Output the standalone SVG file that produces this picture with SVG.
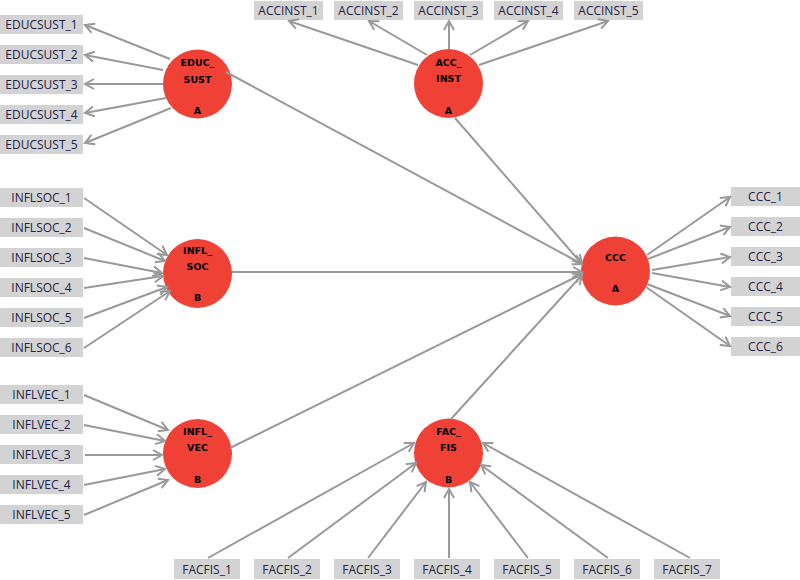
<svg xmlns="http://www.w3.org/2000/svg" width="800" height="580" viewBox="0 0 800 580">
<style>
.bg{fill:#ffffff}
.box{fill:#d3d3d3}
.lbl{font-family:"Open Sans","Noto Sans","DejaVu Sans",sans-serif;font-size:12px;fill:#1e2246;text-anchor:middle}
.lv{fill:#ef4136}
.lt{font-family:"DejaVu Sans","Liberation Sans",sans-serif;font-size:9.5px;font-weight:bold;fill:#000;text-anchor:middle}
.c{stroke:#999999;stroke-width:2;fill:none;marker-end:url(#ah)}
</style>
<defs>
<marker id="ah" markerUnits="userSpaceOnUse" markerWidth="14" markerHeight="14" viewBox="0 0 14 14" refX="11" refY="7" orient="auto">
<path d="M2,2 L11,7 L2,12" fill="none" stroke="#999999" stroke-width="2"/>
</marker>
</defs>
<rect class="bg" x="0" y="0" width="800" height="580"/>

<g id="nodes">
<g id="EDUC_SUST"><circle class="lv" cx="197.5" cy="84" r="34.5"/><text class="lt" x="197.5" y="66">EDUC_</text><text class="lt" x="197.5" y="83">SUST</text><text class="lt" x="197.5" y="114">A</text></g>
<g id="ACC_INST"><circle class="lv" cx="448.5" cy="83.5" r="34.5"/><text class="lt" x="448.5" y="66">ACC_</text><text class="lt" x="448.5" y="82">INST</text><text class="lt" x="448.5" y="114">A</text></g>
<g id="INFL_SOC"><circle class="lv" cx="197.5" cy="273.5" r="34.5"/><text class="lt" x="197.5" y="254">INFL_</text><text class="lt" x="197.5" y="270">SOC</text><text class="lt" x="197.5" y="301">B</text></g>
<g id="INFL_VEC"><circle class="lv" cx="197.5" cy="453.5" r="34.5"/><text class="lt" x="197.5" y="435">INFL_</text><text class="lt" x="197.5" y="451">VEC</text><text class="lt" x="197.5" y="483">B</text></g>
<g id="FAC_FIS"><circle class="lv" cx="448.5" cy="453" r="34.5"/><text class="lt" x="448.5" y="435">FAC_</text><text class="lt" x="448.5" y="451">FIS</text><text class="lt" x="448.5" y="483">B</text></g>
<g id="CCC"><circle class="lv" cx="615.5" cy="271" r="34.5"/><text class="lt" x="615.5" y="261">CCC</text><text class="lt" x="615.5" y="292">A</text></g>

<g id="EDUCSUST_1"><rect class="box" x="0" y="15" width="83" height="19"/><text class="lbl" x="41.5" y="29">EDUCSUST_1</text></g>
<g id="EDUCSUST_2"><rect class="box" x="0" y="45" width="83" height="19"/><text class="lbl" x="41.5" y="59">EDUCSUST_2</text></g>
<g id="EDUCSUST_3"><rect class="box" x="0" y="75" width="83" height="19"/><text class="lbl" x="41.5" y="89">EDUCSUST_3</text></g>
<g id="EDUCSUST_4"><rect class="box" x="0" y="105" width="83" height="19"/><text class="lbl" x="41.5" y="119">EDUCSUST_4</text></g>
<g id="EDUCSUST_5"><rect class="box" x="0" y="135" width="83" height="19"/><text class="lbl" x="41.5" y="149">EDUCSUST_5</text></g>

<g id="ACCINST_1"><rect class="box" x="254" y="1" width="69" height="19"/><text class="lbl" x="288.5" y="15">ACCINST_1</text></g>
<g id="ACCINST_2"><rect class="box" x="334" y="1" width="69" height="19"/><text class="lbl" x="368.5" y="15">ACCINST_2</text></g>
<g id="ACCINST_3"><rect class="box" x="414" y="1" width="69" height="19"/><text class="lbl" x="448.5" y="15">ACCINST_3</text></g>
<g id="ACCINST_4"><rect class="box" x="494" y="1" width="69" height="19"/><text class="lbl" x="528.5" y="15">ACCINST_4</text></g>
<g id="ACCINST_5"><rect class="box" x="574" y="1" width="69" height="19"/><text class="lbl" x="608.5" y="15">ACCINST_5</text></g>

<g id="INFLSOC_1"><rect class="box" x="0" y="188" width="83" height="19"/><text class="lbl" x="41.5" y="202">INFLSOC_1</text></g>
<g id="INFLSOC_2"><rect class="box" x="0" y="218" width="83" height="19"/><text class="lbl" x="41.5" y="232">INFLSOC_2</text></g>
<g id="INFLSOC_3"><rect class="box" x="0" y="248" width="83" height="19"/><text class="lbl" x="41.5" y="262">INFLSOC_3</text></g>
<g id="INFLSOC_4"><rect class="box" x="0" y="278" width="83" height="19"/><text class="lbl" x="41.5" y="292">INFLSOC_4</text></g>
<g id="INFLSOC_5"><rect class="box" x="0" y="308" width="83" height="19"/><text class="lbl" x="41.5" y="322">INFLSOC_5</text></g>
<g id="INFLSOC_6"><rect class="box" x="0" y="338" width="83" height="19"/><text class="lbl" x="41.5" y="352">INFLSOC_6</text></g>

<g id="INFLVEC_1"><rect class="box" x="0" y="385" width="83" height="19"/><text class="lbl" x="41.5" y="399">INFLVEC_1</text></g>
<g id="INFLVEC_2"><rect class="box" x="0" y="415" width="83" height="19"/><text class="lbl" x="41.5" y="429">INFLVEC_2</text></g>
<g id="INFLVEC_3"><rect class="box" x="0" y="445" width="83" height="19"/><text class="lbl" x="41.5" y="459">INFLVEC_3</text></g>
<g id="INFLVEC_4"><rect class="box" x="0" y="475" width="83" height="19"/><text class="lbl" x="41.5" y="489">INFLVEC_4</text></g>
<g id="INFLVEC_5"><rect class="box" x="0" y="505" width="83" height="19"/><text class="lbl" x="41.5" y="519">INFLVEC_5</text></g>

<g id="CCC_1"><rect class="box" x="731" y="187" width="69" height="19"/><text class="lbl" x="765.5" y="201">CCC_1</text></g>
<g id="CCC_2"><rect class="box" x="731" y="217" width="69" height="19"/><text class="lbl" x="765.5" y="231">CCC_2</text></g>
<g id="CCC_3"><rect class="box" x="731" y="247" width="69" height="19"/><text class="lbl" x="765.5" y="261">CCC_3</text></g>
<g id="CCC_4"><rect class="box" x="731" y="277" width="69" height="19"/><text class="lbl" x="765.5" y="291">CCC_4</text></g>
<g id="CCC_5"><rect class="box" x="731" y="307" width="69" height="19"/><text class="lbl" x="765.5" y="321">CCC_5</text></g>
<g id="CCC_6"><rect class="box" x="731" y="337" width="69" height="19"/><text class="lbl" x="765.5" y="351">CCC_6</text></g>

<g id="FACFIS_1"><rect class="box" x="174" y="559" width="66" height="20"/><text class="lbl" x="207" y="574">FACFIS_1</text></g>
<g id="FACFIS_2"><rect class="box" x="254" y="559" width="66" height="20"/><text class="lbl" x="287" y="574">FACFIS_2</text></g>
<g id="FACFIS_3"><rect class="box" x="334" y="559" width="66" height="20"/><text class="lbl" x="367" y="574">FACFIS_3</text></g>
<g id="FACFIS_4"><rect class="box" x="414" y="559" width="66" height="20"/><text class="lbl" x="447" y="574">FACFIS_4</text></g>
<g id="FACFIS_5"><rect class="box" x="494" y="559" width="66" height="20"/><text class="lbl" x="527" y="574">FACFIS_5</text></g>
<g id="FACFIS_6"><rect class="box" x="574" y="559" width="66" height="20"/><text class="lbl" x="607" y="574">FACFIS_6</text></g>
<g id="FACFIS_7"><rect class="box" x="654" y="559" width="66" height="20"/><text class="lbl" x="687" y="574">FACFIS_7</text></g>
</g>

<g id="connectors">
<line class="c" x1="170" y1="59" x2="85" y2="25"/>
<line class="c" x1="163" y1="70" x2="85" y2="55"/>
<line class="c" x1="163" y1="84" x2="85" y2="84"/>
<line class="c" x1="166" y1="98" x2="85" y2="113"/>
<line class="c" x1="171" y1="108" x2="85" y2="143"/>

<line class="c" x1="418" y1="65" x2="289" y2="21"/>
<line class="c" x1="427" y1="55" x2="369" y2="21"/>
<line class="c" x1="449" y1="49" x2="449" y2="21"/>
<line class="c" x1="470" y1="55" x2="528" y2="21"/>
<line class="c" x1="479" y1="65" x2="608" y2="21"/>

<line class="c" x1="647" y1="255" x2="730" y2="197"/>
<line class="c" x1="648" y1="259" x2="730" y2="227"/>
<line class="c" x1="652" y1="270" x2="730" y2="257"/>
<line class="c" x1="652" y1="273" x2="730" y2="287"/>
<line class="c" x1="647" y1="284" x2="730" y2="316"/>
<line class="c" x1="646" y1="287" x2="730" y2="346"/>

<line class="c" x1="84" y1="198" x2="167" y2="255"/>
<line class="c" x1="84" y1="228" x2="165" y2="261"/>
<line class="c" x1="84" y1="258" x2="162" y2="273"/>
<line class="c" x1="84" y1="288" x2="163" y2="276"/>
<line class="c" x1="84" y1="318" x2="167" y2="287"/>
<line class="c" x1="84" y1="348" x2="170" y2="291"/>

<line class="c" x1="84" y1="395" x2="168" y2="430"/>
<line class="c" x1="84" y1="425" x2="165" y2="441"/>
<line class="c" x1="85" y1="455" x2="162" y2="455"/>
<line class="c" x1="84" y1="485" x2="165" y2="469"/>
<line class="c" x1="84" y1="515" x2="168" y2="480"/>

<line class="c" x1="208" y1="558" x2="414" y2="443"/>
<line class="c" x1="288" y1="558" x2="416" y2="463"/>
<line class="c" x1="368" y1="558" x2="426" y2="482"/>
<line class="c" x1="449" y1="558" x2="449" y2="489"/>
<line class="c" x1="528" y1="558" x2="470" y2="482"/>
<line class="c" x1="608" y1="558" x2="481" y2="465"/>
<line class="c" x1="690" y1="558" x2="483" y2="443"/>

<line class="c" x1="226" y1="72" x2="582" y2="264"/>
<line class="c" x1="455" y1="118" x2="582" y2="264"/>
<line class="c" x1="232" y1="272" x2="582" y2="272"/>
<line class="c" x1="230" y1="448" x2="582" y2="274"/>
<line class="c" x1="451" y1="419" x2="582" y2="275"/>
</g>
</svg>
